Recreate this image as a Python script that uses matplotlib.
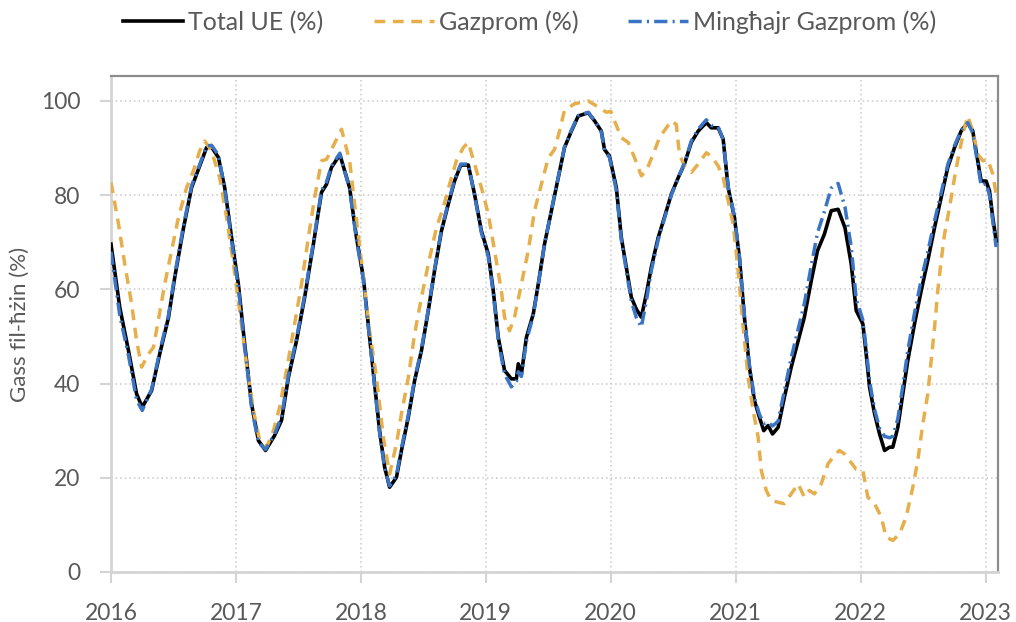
import matplotlib
matplotlib.use('Agg')
import matplotlib.pyplot as plt

# gas storage filling levels (decimal years)
years_ue = [
    2016.00, 2016.07, 2016.14, 2016.205, 2016.25, 2016.325, 2016.39, 2016.46, 2016.51, 2016.58,
    2016.645, 2016.71, 2016.765, 2016.805, 2016.86, 2016.91, 2016.98, 2017.02, 2017.07, 2017.125,
    2017.18, 2017.237, 2017.31, 2017.365, 2017.42, 2017.485, 2017.55, 2017.62, 2017.685, 2017.725,
    2017.765, 2017.832, 2017.91, 2017.965, 2018.02, 2018.07, 2018.11, 2018.15, 2018.19, 2018.23,
    2018.285, 2018.325, 2018.38, 2018.43, 2018.485, 2018.54, 2018.59, 2018.645, 2018.70, 2018.75,
    2018.80, 2018.86, 2018.91, 2018.965, 2019.02, 2019.06, 2019.10, 2019.15, 2019.205, 2019.245,
    2019.26, 2019.285, 2019.325, 2019.38, 2019.42, 2019.47, 2019.525, 2019.58, 2019.63, 2019.685,
    2019.74, 2019.82, 2019.87, 2019.925, 2019.95, 2019.99, 2020.045, 2020.085, 2020.125, 2020.165,
    2020.205, 2020.245, 2020.285, 2020.325, 2020.38, 2020.43, 2020.485, 2020.54, 2020.59, 2020.645,
    2020.70, 2020.765, 2020.805, 2020.86, 2020.90, 2020.94, 2020.99, 2021.03, 2021.07, 2021.11,
    2021.15, 2021.19, 2021.225, 2021.26, 2021.295, 2021.34, 2021.39, 2021.445, 2021.50, 2021.55,
    2021.605, 2021.655, 2021.71, 2021.765, 2021.82, 2021.875, 2021.925, 2021.965, 2022.018, 2022.045,
    2022.072, 2022.112, 2022.152, 2022.192, 2022.232, 2022.258, 2022.298, 2022.338, 2022.378, 2022.432,
    2022.485, 2022.538, 2022.592, 2022.645, 2022.698, 2022.752, 2022.805, 2022.858, 2022.898, 2022.938,
    2022.965, 2023.005, 2023.032, 2023.058, 2023.085,
]
total_ue = [
    69.6, 56.2, 47.0, 37.8, 35.0, 38.5, 46.3, 54.0, 62.5, 73.0,
    81.6, 86.2, 90.1, 90.2, 88.0, 81.6, 68.2, 61.0, 48.4, 35.7,
    27.9, 25.8, 29.0, 32.2, 41.3, 49.1, 58.3, 69.6, 80.6, 82.3,
    85.9, 88.6, 81.6, 71.0, 62.5, 49.8, 39.9, 30.0, 22.3, 18.0,
    20.1, 25.8, 32.9, 40.6, 47.0, 55.5, 64.0, 72.4, 78.1, 83.0,
    86.4, 86.4, 80.2, 72.4, 67.5, 59.7, 49.8, 42.8, 41.0, 41.0,
    44.2, 42.0, 49.8, 54.8, 61.1, 69.6, 76.7, 83.7, 90.1, 93.6,
    96.8, 97.5, 95.8, 93.6, 89.7, 88.3, 81.6, 71.0, 64.7, 58.3,
    55.8, 54.1, 59.0, 64.7, 71.0, 75.3, 80.2, 83.7, 86.6, 91.2,
    93.6, 95.4, 94.3, 94.3, 91.9, 81.6, 75.3, 66.8, 54.1, 43.5,
    36.4, 32.9, 30.0, 31.1, 29.3, 30.7, 37.1, 43.5, 49.1, 54.1,
    61.8, 68.2, 71.7, 76.7, 77.0, 73.1, 65.4, 55.5, 52.7, 46.3,
    39.2, 33.6, 29.3, 25.8, 26.5, 26.5, 30.7, 37.8, 44.9, 52.7,
    59.7, 66.1, 73.1, 79.5, 85.9, 90.1, 93.6, 95.4, 93.6, 87.3,
    83.0, 83.0, 80.9, 75.3, 70.3,
]
# same dates as Total UE
minghajr_gazprom = [
    68.0, 54.5, 46.0, 36.5, 34.3, 38.8, 46.8, 54.5, 63.0, 73.5,
    82.0, 86.5, 90.4, 90.6, 88.5, 81.3, 67.5, 60.3, 47.8, 35.0,
    27.5, 26.0, 29.3, 33.0, 41.8, 49.6, 58.8, 70.0, 81.0, 82.8,
    86.2, 88.9, 81.3, 70.5, 62.0, 49.5, 39.5, 29.5, 22.0, 18.3,
    20.6, 26.3, 33.3, 41.0, 47.3, 55.8, 64.3, 72.7, 78.4, 83.3,
    86.6, 86.6, 80.0, 72.0, 67.0, 59.2, 49.2, 42.0, 39.3, 40.5,
    42.5, 41.5, 49.0, 54.5, 61.0, 69.6, 76.8, 83.8, 90.2, 93.8,
    96.9, 97.6, 95.8, 93.4, 89.5, 88.0, 81.0, 70.5, 64.0, 57.5,
    54.0, 52.0, 57.5, 64.0, 70.5, 75.0, 80.0, 83.7, 86.8, 91.5,
    94.0, 96.0, 94.8, 94.5, 91.8, 81.8, 75.5, 67.0, 54.5, 44.0,
    37.0, 33.5, 31.5, 31.8, 31.0, 32.0, 38.5, 45.5, 51.5, 57.0,
    65.0, 72.0, 76.5, 81.5, 82.5, 77.5, 69.0, 58.0, 53.5, 47.5,
    40.5, 34.5, 30.5, 28.8, 28.5, 28.8, 32.5, 39.5, 47.0, 55.0,
    62.0, 68.0, 74.5, 80.5, 86.5, 90.5, 93.8, 95.4, 93.2, 86.5,
    82.0, 82.5, 80.0, 74.5, 69.0,
]

years_gaz = [
    2016.00, 2016.06, 2016.11, 2016.165, 2016.205, 2016.245, 2016.30, 2016.34, 2016.378, 2016.43,
    2016.485, 2016.54, 2016.605, 2016.66, 2016.71, 2016.75, 2016.805, 2016.87, 2016.925, 2016.98,
    2017.03, 2017.085, 2017.14, 2017.19, 2017.245, 2017.30, 2017.35, 2017.405, 2017.46, 2017.525,
    2017.58, 2017.63, 2017.685, 2017.725, 2017.78, 2017.845, 2017.91, 2017.955, 2018.02, 2018.07,
    2018.125, 2018.18, 2018.23, 2018.285, 2018.325, 2018.38, 2018.43, 2018.485, 2018.54, 2018.605,
    2018.66, 2018.71, 2018.765, 2018.82, 2018.86, 2018.91, 2018.965, 2019.02, 2019.07, 2019.125,
    2019.15, 2019.19, 2019.23, 2019.285, 2019.34, 2019.39, 2019.445, 2019.50, 2019.55, 2019.59,
    2019.63, 2019.71, 2019.82, 2019.90, 2019.965, 2020.00, 2020.03, 2020.085, 2020.14, 2020.19,
    2020.245, 2020.285, 2020.34, 2020.39, 2020.445, 2020.485, 2020.525, 2020.55, 2020.59, 2020.645,
    2020.70, 2020.765, 2020.805, 2020.86, 2020.90, 2020.94, 2020.98, 2021.02, 2021.06, 2021.10,
    2021.14, 2021.18, 2021.205, 2021.245, 2021.285, 2021.34, 2021.39, 2021.445, 2021.50, 2021.55,
    2021.59, 2021.63, 2021.685, 2021.74, 2021.79, 2021.83, 2021.87, 2021.91, 2021.965, 2022.018,
    2022.058, 2022.112, 2022.165, 2022.205, 2022.258, 2022.312, 2022.365, 2022.418, 2022.458, 2022.498,
    2022.538, 2022.565, 2022.592, 2022.618, 2022.645, 2022.672, 2022.712, 2022.752, 2022.792, 2022.832,
    2022.858, 2022.898, 2022.938, 2022.978, 2023.018, 2023.058, 2023.085,
]
gazprom = [
    82.7, 73.9, 65.4, 56.9, 49.1, 43.5, 46.3, 47.7, 53.4, 61.1,
    68.2, 75.3, 81.6, 85.2, 89.4, 91.5, 89.4, 83.7, 75.3, 65.4,
    55.5, 44.2, 34.3, 27.9, 26.5, 30.0, 35.0, 42.8, 51.2, 61.1,
    71.0, 79.5, 87.3, 87.6, 90.5, 94.0, 87.3, 77.0, 62.5, 51.2,
    41.3, 28.6, 20.8, 27.2, 33.6, 41.3, 50.5, 58.3, 65.4, 73.1,
    77.4, 82.3, 87.3, 90.1, 91.2, 86.6, 81.6, 76.0, 68.2, 59.7,
    54.1, 51.2, 54.1, 61.1, 68.2, 76.7, 82.3, 87.9, 89.7, 93.6,
    98.0, 99.4, 100.0, 98.7, 97.6, 97.8, 95.8, 92.2, 91.2, 88.0,
    84.1, 85.2, 88.7, 92.2, 94.3, 95.8, 95.0, 88.7, 86.2, 84.8,
    86.6, 89.0, 88.3, 86.2, 83.7, 78.8, 73.9, 64.0, 52.0, 41.3,
    34.3, 28.6, 21.6, 17.3, 15.2, 14.8, 14.5, 16.6, 18.7, 15.9,
    17.3, 16.6, 18.7, 23.0, 24.7, 25.8, 25.1, 23.7, 21.8, 21.6,
    15.9, 14.5, 11.7, 7.4, 6.7, 8.1, 11.7, 18.0, 23.7, 31.4,
    37.8, 44.9, 51.9, 59.7, 66.1, 71.7, 77.4, 83.7, 89.4, 94.3,
    96.8, 93.6, 88.7, 87.3, 87.6, 84.5, 80.2,
]

year_ticks = [2016, 2017, 2018, 2019, 2020, 2021, 2022, 2023]
value_ticks = [0, 20, 40, 60, 80, 100]

text_col = '#595959'
plt.rcParams['font.family'] = ['Lato', 'DejaVu Sans']

fig = plt.figure(figsize=(10.16, 6.22), dpi=100)
ax = fig.add_axes([111 / 1016, 1 - 572 / 622, 887 / 1016, 496 / 622])

ax.plot(years_ue, total_ue, color='black', lw=2.6, label='Total UE (%)',
        solid_joinstyle='round', zorder=3)
ax.plot(years_gaz, gazprom, color='#E6AF4B', lw=2.5, linestyle=(0, (3.1, 2.2)),
        label='Gazprom (%)', zorder=4)
ax.plot(years_ue, minghajr_gazprom, color='#3A74C4', lw=2.5,
        linestyle=(0, (3.8, 1.5, 0.6, 1.5)), label='Mingħajr Gazprom (%)', zorder=5)

ax.set_xlim(2016, 2023.1)
ax.set_ylim(0, 105.3)
ax.set_xticks(year_ticks)
ax.set_yticks(value_ticks)
ax.grid(True, color='#c8c8c8', linestyle=(0, (1, 2)), lw=1.1)
ax.set_axisbelow(True)

for side in ['top', 'right']:
    ax.spines[side].set_color('#8c8c8c')
    ax.spines[side].set_linewidth(1.6)
for side in ['left', 'bottom']:
    ax.spines[side].set_color('#d4d4d4')
    ax.spines[side].set_linewidth(2)

ax.tick_params(axis='both', colors='#d4d4d4', length=8, width=1.5, labelcolor=text_col,
               labelsize=16.5)
ax.tick_params(axis='y', pad=14)
ax.tick_params(axis='x', pad=14)

ax.set_ylabel('Gass fil-ħżin (%)', fontsize=16, color=text_col, labelpad=8)

fig.legend(loc='center', bbox_to_anchor=(530 / 1016, 1 - 22 / 622), ncol=3, frameon=False,
           fontsize=18, handlelength=2.4, handletextpad=0.2, columnspacing=2.0,
           labelcolor=text_col)

fig.savefig('out.png', dpi=100)
